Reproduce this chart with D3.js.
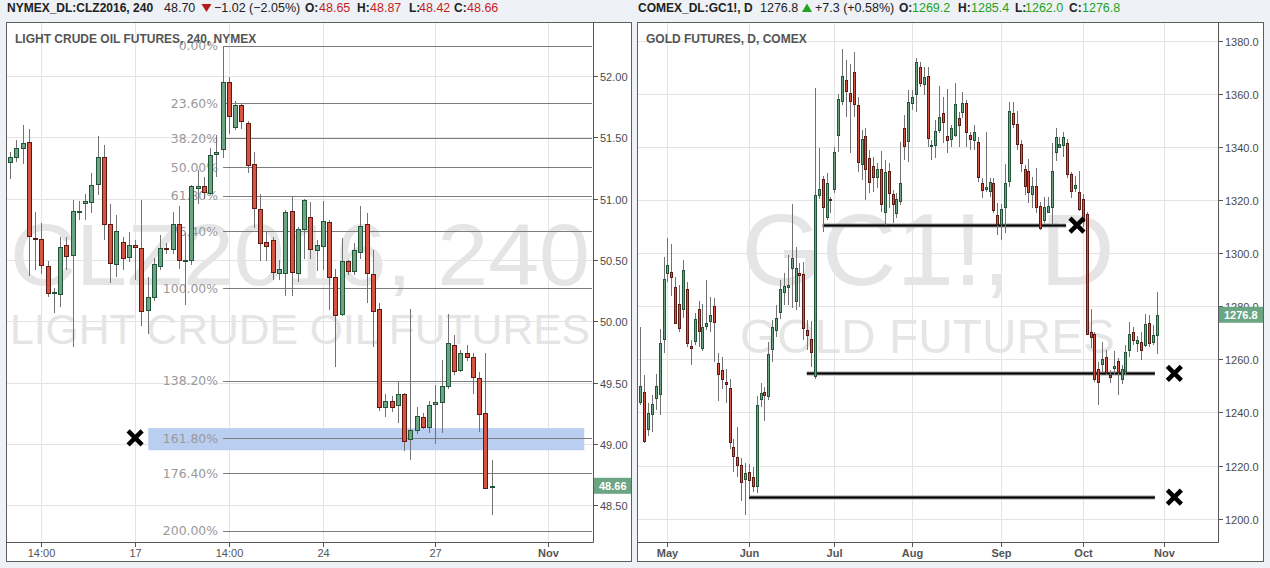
<!DOCTYPE html>
<html>
<head>
<meta charset="utf-8">
<script src="https://cdn.jsdelivr.net/npm/d3@7"></script>
<style>
  body { margin: 0; background: #eef1f5; }
  svg { display: block; font-family: "Liberation Sans", Arial, sans-serif; }
</style>
</head>
<body>
<svg width="1270" height="568"></svg>
<script>

// ---- light crude oil, 240 min bars ----
var clOpen  = [51.30,51.34,51.41,51.46,50.68,50.67,50.45,50.23,50.23,50.62,50.54,50.89,50.96,50.97,51.12,51.34,50.79,50.47,50.65,50.52,
               50.62,50.60,50.09,50.20,50.45,50.60,50.59,50.79,50.49,50.50,51.08,51.10,51.05,51.36,51.40,51.95,51.58,51.76,51.62,51.28,
               50.92,50.65,50.66,50.40,50.39,50.90,50.39,50.75,50.85,50.58,50.62,50.81,50.36,50.06,50.49,50.41,50.57,50.79,50.39,50.10,
               49.305,49.35,49.32,49.41,49.04,49.115,49.22,49.14,49.32,49.34,49.47,49.81,49.60,49.74,49.71,49.54,49.25,48.65];
var clHigh  = [51.38,51.48,51.60,51.57,50.89,50.80,50.49,50.27,50.69,50.69,50.99,50.98,51.04,51.21,51.51,51.44,50.96,50.87,50.69,50.73,
               50.66,50.99,50.36,50.52,50.70,50.64,50.89,50.94,50.72,51.11,51.23,51.18,51.41,51.52,52.245,51.99,51.80,51.78,51.63,51.38,
               51.04,50.74,50.69,50.50,50.91,51.02,50.77,51.00,50.97,50.66,50.98,50.83,50.43,50.68,50.50,50.64,50.94,50.88,50.58,50.15,
               49.41,49.39,49.51,49.42,50.10,49.30,49.25,49.35,49.48,49.685,50.06,49.89,49.77,49.81,49.74,49.59,49.74,48.87];
var clLow   = [51.16,51.30,51.28,50.37,50.42,50.39,50.20,50.07,50.12,50.42,49.79,50.83,50.83,50.88,51.03,50.66,50.31,50.36,50.42,50.48,
               50.34,49.96,49.90,50.17,50.42,50.55,50.55,50.43,50.13,50.46,50.96,51.00,51.03,51.18,51.33,51.53,51.56,51.57,51.21,50.76,
               50.49,50.49,50.34,50.34,50.21,50.21,50.32,50.51,50.51,50.41,50.42,50.09,49.63,50.04,50.38,50.38,50.51,50.15,49.79,49.27,
               49.22,49.26,49.17,48.94,48.87,49.08,49.12,49.09,49.00,49.09,49.45,49.56,49.59,49.68,49.41,49.10,48.63,48.42];
var clClose = [51.34,51.41,51.45,50.69,50.67,50.46,50.23,50.24,50.61,50.53,50.90,50.90,50.98,51.11,51.34,50.79,50.47,50.74,50.52,50.62,
               50.60,50.09,50.20,50.47,50.60,50.59,50.79,50.50,50.50,51.10,51.10,51.05,51.36,51.38,51.95,51.67,51.76,51.63,51.28,50.92,
               50.64,50.62,50.40,50.43,50.89,50.40,50.75,50.99,50.59,50.62,50.82,50.36,50.05,50.49,50.41,50.58,50.78,50.39,50.09,49.30,
               49.35,49.305,49.41,49.03,49.115,49.23,49.14,49.32,49.34,49.47,49.82,49.60,49.74,49.71,49.55,49.25,48.64,48.66];
var clTickIdx = [5, 20, 35, 50, 68, 86];
var clTickLab = ['14:00', '17', '14:00', '24', '27', 'Nov'];
var clPriceTicks = [48.5, 49, 49.5, 50, 50.5, 51, 51.5, 52];
var fibRatios = [0, 0.236, 0.382, 0.5, 0.618, 0.764, 1, 1.382, 1.618, 1.764, 2];
var fibHigh = 52.245, fibLow = 50.27, fibFrom = 34;
var zoneFrom = 22.1, zoneTo = 91.8, zoneTop = 49.13, zoneBottom = 48.95;
var clMarkIdx = [20], clMarkPrice = [49.05];

// ---- gold futures, daily bars (Apr 21 .. Oct 28) ----
var gcOpen  = [1244.1,1247.8,1233.9,1239.3,1245.3,1246.9,1267.6,1292.7,1292.8,1287.2,1280.8,1278.9,1286.4,1265.0,1266.7,1278.9,1264.4,1272.6,1274.2,1280.0,
               1258.5,1255.9,1251.5,1249.1,1226.9,1223.1,1220.1,1214.7,1217.5,1215.6,1212.4,1245.0,1247.6,1246.3,1264.0,1270.8,1277.6,1285.4,1287.4,1294.5,
               1282.0,1292.4,1292.2,1271.1,1267.7,1253.9,1321.8,1327.8,1313.4,1320.3,1324.1,1344.3,1357.1,1365.2,1360.5,1368.1,1355.8,1333.5,1344.1,1335.7,
               1332.8,1328.6,1331.7,1315.6,1331.0,1322.3,1315.0,1319.4,1347.0,1342.0,1356.5,1359.8,1370.0,1363.8,1366.7,1340.4,1340.6,1346.3,1352.7,1344.1,
               1342.9,1344.5,1350.8,1353.1,1356.5,1344.5,1342.6,1341.8,1326.6,1324.1,1323.2,1326.3,1314.4,1310.9,1317.1,1327.3,1352.7,1348.5,1341.0,1331.6,
               1331.1,1322.2,1325.2,1317.7,1312.5,1315.6,1317.3,1338.2,1339.9,1340.4,1341.4,1329.7,1324.3,1323.0,1320.3,1314.8,1270.2,1269.6,1256.3,1258.3,
               1261.0,1254.0,1256.5,1259.3,1252.5,1255.5,1263.4,1270.2,1266.1,1266.4,1265.4,1273.6,1266.7,1269.2];
var gcHigh  = [1272.3,1254.1,1243.5,1246.6,1254.5,1271.4,1298.5,1305.6,1303.5,1291.1,1288.0,1297.4,1289.3,1267.3,1277.4,1282.1,1280.9,1289.9,1283.6,1283.0,
               1262.3,1261.0,1256.3,1252.5,1229.9,1234.4,1222.7,1220.9,1220.6,1219.6,1246.2,1251.0,1249.7,1266.7,1274.8,1280.5,1289.9,1292.4,1299.3,1318.5,
               1302.2,1296.2,1296.8,1274.8,1274.6,1362.1,1339.5,1329.1,1330.3,1321.3,1340.1,1359.8,1376.8,1372.8,1371.3,1375.7,1358.9,1346.4,1347.0,1338.9,
               1336.3,1333.9,1338.6,1335.1,1333.9,1323.8,1322.6,1342.0,1352.1,1361.5,1361.5,1373.6,1372.1,1370.2,1370.2,1342.6,1350.2,1363.0,1358.9,1361.7,
               1348.3,1364.0,1353.3,1360.8,1357.7,1345.8,1348.3,1343.9,1328.2,1345.8,1328.2,1328.2,1318.8,1318.5,1333.6,1356.8,1356.8,1353.7,1342.6,1333.2,
               1335.5,1328.8,1332.0,1319.4,1321.3,1321.3,1341.4,1347.0,1343.9,1345.5,1342.9,1330.7,1329.1,1331.1,1322.3,1315.6,1278.9,1270.4,1259.1,1266.7,
               1263.5,1256.0,1263.3,1260.4,1257.9,1265.4,1274.1,1272.3,1268.8,1270.4,1277.1,1276.7,1273.0,1285.4];
var gcLow   = [1242.8,1228.4,1231.1,1232.8,1240.9,1239.0,1262.3,1289.3,1283.9,1273.3,1270.4,1275.5,1264.8,1257.9,1265.4,1264.8,1263.3,1271.1,1270.4,1259.1,
               1244.4,1248.7,1243.5,1226.1,1217.7,1215.8,1206.8,1201.5,1208.3,1210.2,1209.5,1242.0,1236.9,1244.7,1259.1,1268.3,1275.1,1280.5,1280.5,1279.4,
               1278.6,1279.8,1267.3,1263.5,1257.0,1252.6,1320.5,1308.1,1312.5,1315.0,1322.8,1338.2,1355.8,1351.4,1337.6,1351.4,1330.7,1327.6,1320.0,1322.6,
               1323.2,1324.4,1315.6,1310.6,1316.9,1311.3,1313.1,1318.2,1335.1,1334.5,1353.9,1353.3,1362.7,1359.6,1340.1,1335.1,1335.7,1345.2,1341.4,1337.6,
               1340.1,1343.9,1340.1,1350.8,1340.1,1338.9,1338.9,1326.9,1320.7,1323.2,1321.3,1315.0,1306.9,1305.0,1307.5,1325.0,1347.0,1338.9,1330.7,1321.9,
               1318.8,1316.9,1315.0,1308.7,1311.3,1315.0,1311.0,1334.7,1339.5,1336.3,1328.2,1320.7,1323.2,1316.0,1310.0,1269.2,1264.2,1251.6,1242.8,1254.8,
               1254.1,1251.0,1254.1,1246.6,1250.7,1254.1,1261.0,1265.4,1262.9,1259.8,1264.6,1264.8,1265.4,1262.0];
var gcClose = [1250.0,1229.4,1239.8,1243.2,1250.0,1266.1,1290.2,1295.6,1291.1,1273.8,1271.6,1293.6,1266.1,1264.4,1275.1,1270.8,1272.3,1273.6,1276.6,1274.0,
               1254.4,1252.5,1250.8,1228.8,1223.4,1220.0,1213.7,1217.1,1214.5,1212.1,1242.8,1247.2,1246.5,1262.0,1272.3,1275.5,1286.4,1287.6,1288.0,1298.1,
               1294.3,1291.5,1271.9,1269.3,1262.7,1321.9,1324.1,1317.3,1326.3,1319.8,1338.2,1358.0,1366.7,1361.2,1357.3,1355.9,1334.5,1343.0,1331.6,1326.6,
               1328.6,1331.7,1318.6,1330.5,1322.8,1318.6,1320.3,1326.3,1340.4,1356.8,1358.9,1371.9,1363.8,1366.5,1343.5,1340.8,1346.0,1351.3,1349.3,1342.6,
               1347.0,1356.2,1348.2,1356.5,1345.4,1342.9,1345.5,1328.8,1324.1,1325.0,1326.7,1316.0,1310.9,1316.5,1326.3,1353.6,1348.5,1341.0,1333.9,1325.3,
               1323.2,1325.4,1317.3,1309.6,1317.3,1317.8,1331.0,1343.9,1341.0,1343.6,1329.7,1323.4,1325.6,1316.5,1312.1,1269.5,1268.3,1252.5,1251.4,1260.1,
               1255.5,1253.3,1257.4,1255.0,1256.3,1262.7,1269.5,1267.0,1267.2,1263.4,1273.2,1266.1,1269.2,1276.8];
var gcTickIdx = [7, 28, 50, 70, 93, 114, 135];
var gcTickLab = ['May', 'Jun', 'Jul', 'Aug', 'Sep', 'Oct', 'Nov'];
var gcPriceTicks = [1200, 1220, 1240, 1260, 1280, 1300, 1320, 1340, 1360, 1380];
var gcLevels = [1310.6, 1254.7, 1208.2];
var gcLevelFrom = [47, 42.9, 28];
var gcLevelTo = [109.7, 132.6, 132.6];
var gcMarkIdx = [112.5, 137.6, 137.6], gcMarkPrice = [1310.6, 1254.7, 1208.1];

var UP = '#6ba583', UP_LINE = '#225437', DOWN = '#d75442', DOWN_LINE = '#5b1a13';
var svg = d3.select('svg');

function xMark(g, cx, cy) {
  g.append('path')
    .attr('d', 'M' + (cx - 7) + ',' + (cy - 7) + 'L' + (cx + 7) + ',' + (cy + 7) +
               'M' + (cx + 7) + ',' + (cy - 7) + 'L' + (cx - 7) + ',' + (cy + 7))
    .attr('stroke', '#000').attr('stroke-width', 4.5);
}

function drawPanel(p) {
  var g = svg.append('g');
  var L = p.plot[0], R = p.plot[1];

  g.append('rect')
    .attr('x', p.box[0] + 0.5).attr('y', 22.5)
    .attr('width', p.box[1] - p.box[0] - 1).attr('height', 539)
    .attr('fill', '#fff').attr('stroke', '#5f5f5f');

  var x = d3.scaleLinear().domain([0, p.open.length - 1]).range(p.xRange),
      y = d3.scaleLinear().domain(p.yDomain).range([542, 22]);
  var px = function(i) { return Math.round(x(i)) + 0.5; },
      py = function(v) { return Math.round(y(v)) + 0.5; };

  // watermark
  g.selectAll('text.wm')
    .data(p.watermark)
    .enter()
    .append('text')
    .attr('class', 'wm')
    .attr('x', function(d) { return d.cx; })
    .attr('y', function(d) { return d.y; })
    .attr('text-anchor', 'middle')
    .attr('font-size', function(d) { return d.size; })
    .attr('textLength', function(d) { return d.len; })
    .attr('lengthAdjust', 'spacingAndGlyphs')
    .attr('fill', '#e5e5e5')
    .text(function(d) { return d.text; });

  // grid
  g.selectAll('line.vg')
    .data(p.tickIdx)
    .enter()
    .append('line')
    .attr('class', 'vg')
    .attr('x1', px).attr('x2', px)
    .attr('y1', 23).attr('y2', 542)
    .attr('stroke', '#e4e4e4');
  g.selectAll('line.hg')
    .data(p.priceTicks)
    .enter()
    .append('line')
    .attr('class', 'hg')
    .attr('x1', L).attr('x2', R)
    .attr('y1', py).attr('y2', py)
    .attr('stroke', '#e4e4e4');

  if (p.under) p.under(g, x, y);

  // candles
  var c = g.selectAll('g.candle')
    .data(d3.range(p.open.length))
    .enter()
    .append('g')
    .attr('class', 'candle');
  c.append('line')
    .attr('x1', px).attr('x2', px)
    .attr('y1', function(i) { return Math.round(y(p.high[i])); })
    .attr('y2', function(i) { return Math.round(y(p.low[i])); })
    .attr('stroke', '#737375');
  c.append('rect')
    .attr('x', function(i) { return px(i) - p.bw / 2; })
    .attr('y', function(i) { return Math.round(y(Math.max(p.open[i], p.close[i]))) + 0.5; })
    .attr('width', p.bw)
    .attr('height', function(i) {
      return Math.max(1, Math.round(Math.abs(y(p.open[i]) - y(p.close[i]))));
    })
    .attr('fill', function(i) { return p.close[i] >= p.open[i] ? UP : DOWN; })
    .attr('stroke', function(i) { return p.close[i] >= p.open[i] ? UP_LINE : DOWN_LINE; });

  if (p.over) p.over(g, x, y);

  // axes
  g.append('line').attr('x1', R + 0.5).attr('x2', R + 0.5).attr('y1', 22).attr('y2', 542.5)
    .attr('stroke', '#555');
  g.append('line').attr('x1', p.box[0]).attr('x2', R + 0.5).attr('y1', 542.5).attr('y2', 542.5)
    .attr('stroke', '#555');

  g.selectAll('line.yt')
    .data(p.priceTicks)
    .enter()
    .append('line')
    .attr('class', 'yt')
    .attr('x1', R).attr('x2', R + 5)
    .attr('y1', py).attr('y2', py)
    .attr('stroke', '#555');
  g.selectAll('text.yl')
    .data(p.priceTicks)
    .enter()
    .append('text')
    .attr('class', 'yl')
    .attr('x', R + 7)
    .attr('y', function(d) { return py(d) + 4; })
    .attr('font-size', 11)
    .attr('fill', '#4a4a4a')
    .text(p.fmt);

  g.selectAll('line.xt')
    .data(p.tickIdx)
    .enter()
    .append('line')
    .attr('class', 'xt')
    .attr('x1', px).attr('x2', px)
    .attr('y1', 542).attr('y2', 547)
    .attr('stroke', '#555');
  g.selectAll('text.xl')
    .data(p.tickIdx)
    .enter()
    .append('text')
    .attr('class', 'xl')
    .attr('x', px)
    .attr('y', 557)
    .attr('text-anchor', 'middle')
    .attr('font-size', 11)
    .attr('font-weight', function(d, i) { return /^[A-Z]/.test(p.tickLab[i]) ? 'bold' : 'normal'; })
    .attr('fill', '#555')
    .text(function(d, i) { return p.tickLab[i]; });

  // last price tag
  var last = p.close[p.close.length - 1];
  g.append('rect')
    .attr('x', R + 1).attr('y', y(last) - 8)
    .attr('width', p.box[1] - R - 2).attr('height', 16)
    .attr('fill', UP);
  g.append('text')
    .attr('x', R + 6).attr('y', y(last) + 4)
    .attr('font-size', 11).attr('font-weight', 'bold')
    .attr('fill', '#fff')
    .text(p.fmt(last));

  // title
  g.append('text')
    .attr('x', p.box[0] + 9).attr('y', 43)
    .attr('font-size', 12).attr('font-weight', 'bold')
    .attr('fill', '#555')
    .text(p.title);

  // header line above the pane
  var h = svg.append('text').attr('y', 12).attr('font-size', 12.5).attr('fill', '#222');
  p.header.forEach(function(s) {
    h.append('tspan').attr('x', s[0]).attr('font-weight', s[2] ? 'bold' : 'normal')
      .attr('font-size', s[2] ? 12 : 12.5)
      .attr('fill', s[3] || '#222').text(s[1]);
  });
  var t = p.tri;
  svg.append('path')
    .attr('d', t.up ? 'M' + t.x + ',12L' + (t.x + 10) + ',12L' + (t.x + 5) + ',3.5Z'
                    : 'M' + t.x + ',4L' + (t.x + 10) + ',4L' + (t.x + 5) + ',12Z')
    .attr('fill', t.color);
}

var RED = '#c41f1f', GREEN = '#22a122';

drawPanel({
  box: [6, 632], plot: [7, 593], xRange: [10, 491.7], yDomain: [48.202, 52.44],
  open: clOpen, high: clHigh, low: clLow, close: clClose, bw: 4,
  tickIdx: clTickIdx, tickLab: clTickLab, priceTicks: clPriceTicks,
  fmt: function(d) { return d3.format('.2f')(d); },
  title: 'LIGHT CRUDE OIL FUTURES, 240, NYMEX',
  watermark: [
    { text: 'CLZ2016, 240', cx: 300, y: 285, size: 88, len: 580 },
    { text: 'LIGHT CRUDE OIL FUTURES', cx: 300, y: 344, size: 42, len: 580 }
  ],
  header: [[7, 'NYMEX_DL:CLZ2016, 240', true], [164, '48.70'], [214, '\u22121.02 (\u22122.05%)'],
           [305, 'O:', true], [319, '48.65', false, RED], [357, 'H:', true], [370, '48.87', false, RED],
           [409, 'L:', true], [419, '48.42', false, RED], [454, 'C:', true], [467, '48.66', false, RED]],
  tri: { x: 201.5, up: false, color: '#b71c1c' },
  under: function(g, x, y) {
    g.append('rect')
      .attr('x', x(zoneFrom)).attr('y', y(zoneTop))
      .attr('width', x(zoneTo) - x(zoneFrom)).attr('height', y(zoneBottom) - y(zoneTop))
      .attr('fill', '#b9cef1');
    var fib = fibRatios.map(function(r) { return fibHigh - r * (fibHigh - fibLow); });
    g.selectAll('line.fib')
      .data(fib)
      .enter()
      .append('line')
      .attr('class', 'fib')
      .attr('x1', Math.round(x(fibFrom))).attr('x2', 592)
      .attr('y1', function(d) { return Math.round(y(d)) + 0.5; })
      .attr('y2', function(d) { return Math.round(y(d)) + 0.5; })
      .attr('stroke', '#7d7d7d');
    g.selectAll('text.fib')
      .data(fib)
      .enter()
      .append('text')
      .attr('class', 'fib')
      .attr('x', Math.round(x(fibFrom)) - 5)
      .attr('y', function(d) { return y(d) + 4.5; })
      .attr('text-anchor', 'end')
      .attr('font-family', '"DejaVu Sans", Verdana, sans-serif')
      .attr('font-size', 12.4)
      .attr('fill', '#999')
      .text(function(d, i) { return (fibRatios[i] * 100).toFixed(2) + '%'; });
  },
  over: function(g, x, y) {
    clMarkIdx.forEach(function(m, i) { xMark(g, x(m), y(clMarkPrice[i])); });
  }
});

drawPanel({
  box: [637, 1264], plot: [638, 1218], xRange: [640.3, 1156.5], yDomain: [1191.2, 1387.1],
  open: gcOpen, high: gcHigh, low: gcLow, close: gcClose, bw: 2,
  tickIdx: gcTickIdx, tickLab: gcTickLab, priceTicks: gcPriceTicks,
  fmt: function(d) { return d3.format('.1f')(d); },
  title: 'GOLD FUTURES, D, COMEX',
  watermark: [
    { text: 'GC1!, D', cx: 928, y: 285, size: 102, len: 373 },
    { text: 'GOLD FUTURES', cx: 927.5, y: 353, size: 49, len: 375 }
  ],
  header: [[638, 'COMEX_DL:GC1!, D', true], [760, '1276.8'], [815, '+7.3 (+0.58%)'],
           [899, 'O:', true], [912, '1269.2', false, GREEN], [958, 'H:', true], [971, '1285.4', false, GREEN],
           [1015, 'L:', true], [1025, '1262.0', false, GREEN], [1069, 'C:', true], [1082, '1276.8', false, GREEN]],
  tri: { x: 802, up: true, color: '#1ea51e' },
  under: function(g, x, y) {
    gcLevels.forEach(function(v, i) {
      var yy = Math.round(y(v)) + 0.5;
      g.append('line').attr('x1', x(gcLevelFrom[i])).attr('x2', x(gcLevelTo[i]))
        .attr('y1', yy).attr('y2', yy).attr('stroke', '#9a9a9a').attr('stroke-width', 4);
      g.append('line').attr('x1', x(gcLevelFrom[i])).attr('x2', x(gcLevelTo[i]))
        .attr('y1', yy).attr('y2', yy).attr('stroke', '#000').attr('stroke-width', 2);
    });
  },
  over: function(g, x, y) {
    gcMarkIdx.forEach(function(m, i) { xMark(g, x(m), y(gcMarkPrice[i])); });
  }
});

</script>
</body>
</html>
